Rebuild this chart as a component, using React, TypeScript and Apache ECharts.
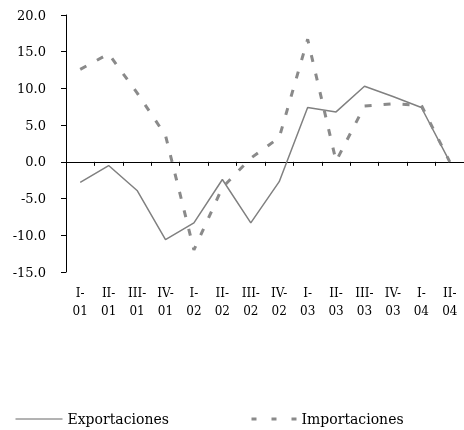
import React, { useEffect, useRef } from "react";
import * as echarts from "echarts";

const categories = ["I-01", "II-01", "III-01", "IV-01", "I-02", "II-02", "III-02", "IV-02", "I-03", "II-03", "III-03", "IV-03", "I-04", "II-04"];
const exportaciones = [-2.8, -0.5, -3.9, -10.6, -8.3, -2.4, -8.3, -2.7, 7.4, 6.8, 10.3, 8.9, 7.4, 0.0];
const importaciones = [12.6, 14.7, 9.4, 3.6, -12.0, -3.5, 0.5, 3.3, 16.7, 0.1, 7.6, 7.9, 7.7, 0.0];
const yMin = -15;
const yMax = 20;
const yStep = 5;

const FONT = "DejaVu Serif";

export default function App() {
  const ref = useRef<HTMLDivElement>(null);
  useEffect(() => {
    if (!ref.current) return;
    const chart = echarts.init(ref.current, undefined, { renderer: "svg" });
    const labels = categories.map((c) => c.replace("-", "-\n"));
    chart.setOption({
      animation: false,
      textStyle: { fontFamily: FONT, color: "#000" },
      grid: { left: 66, top: 15, width: 400, height: 257, containLabel: false },
      xAxis: [
        {
          type: "category",
          data: labels,
          position: "bottom",
          boundaryGap: true,
          axisLine: { show: true, onZero: true, lineStyle: { color: "#000", width: 1 } },
          axisTick: { show: true, length: 4, lineStyle: { color: "#000" } },
          axisLabel: { show: false },
          splitLine: { show: false },
        },
        {
          type: "category",
          data: labels,
          position: "bottom",
          boundaryGap: true,
          axisLine: { show: false, onZero: false },
          axisTick: { show: false },
          axisLabel: { show: true, margin: 12, fontSize: 12, lineHeight: 18, color: "#000", fontFamily: FONT, interval: 0 },
          splitLine: { show: false },
        },
      ],
      yAxis: {
        type: "value",
        min: yMin,
        max: yMax,
        interval: yStep,
        axisLine: { show: true, lineStyle: { color: "#000", width: 1 } },
        axisTick: { show: true, length: 5, lineStyle: { color: "#000" } },
        axisLabel: { margin: 20, fontSize: 13, color: "#000", fontFamily: FONT, formatter: (v: number) => v.toFixed(1) },
        splitLine: { show: false },
      },
      legend: [
        {
          data: ["Exportaciones"],
          left: 15,
          top: 412,
          padding: 0,
          itemWidth: 47,
          itemHeight: 14,
          textStyle: { fontSize: 14, fontFamily: FONT, color: "#000" },
          lineStyle: { width: 1, color: "#666" },
          itemStyle: { opacity: 0 },
        },
        {
          data: ["Importaciones"],
          left: 250,
          top: 412,
          padding: 0,
          itemWidth: 45,
          itemHeight: 14,
          textStyle: { fontSize: 14, fontFamily: FONT, color: "#000" },
          lineStyle: { type: [5, 15], width: 3 },
          itemStyle: { opacity: 0 },
        },
      ],
      series: [
        {
          name: "Exportaciones",
          type: "line",
          data: exportaciones,
          symbol: "none",
          xAxisIndex: 0,
          lineStyle: { color: "#808080", width: 1.5 },
          itemStyle: { color: "#808080" },
        },
        {
          name: "Importaciones",
          type: "line",
          data: importaciones,
          symbol: "none",
          xAxisIndex: 0,
          lineStyle: { color: "#8a8a8a", width: 3, type: [7, 12] },
          itemStyle: { color: "#8a8a8a" },
        },
      ],
    });
    return () => chart.dispose();
  }, []);
  return <div ref={ref} style={{ position: "fixed", left: 0, top: 0, width: 464, height: 430 }} />;
}
